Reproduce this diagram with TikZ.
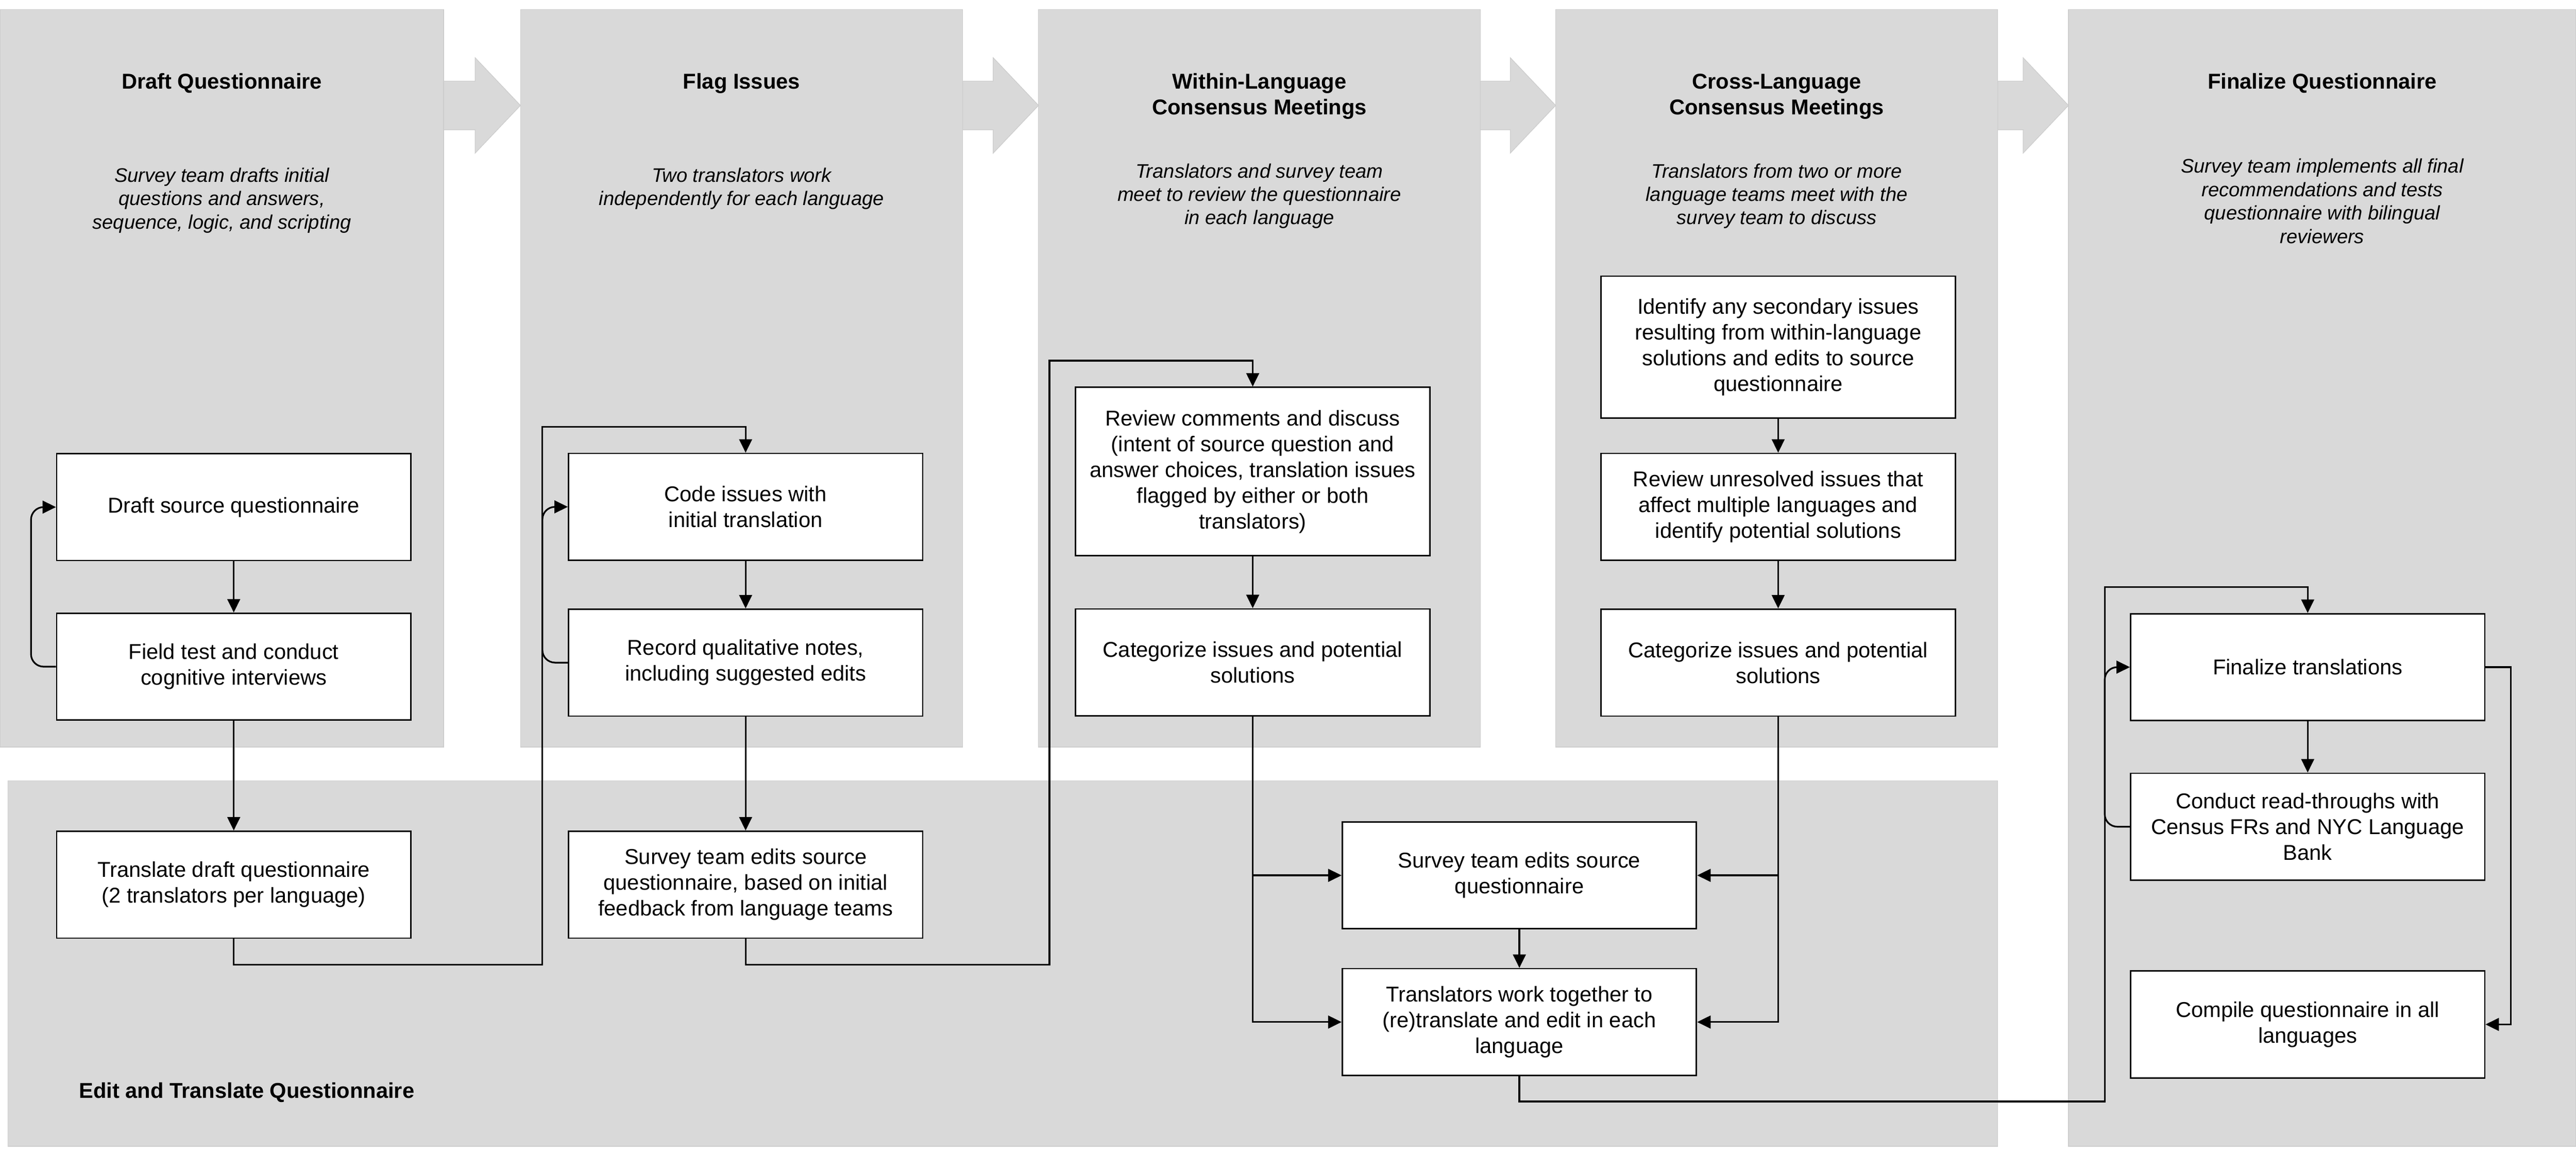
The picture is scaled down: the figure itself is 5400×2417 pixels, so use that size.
\documentclass[tikz,border=0pt]{standalone}
\usepackage{fontspec}
\setmainfont{Liberation Sans}
\usetikzlibrary{arrows.meta}
\definecolor{panelgrey}{HTML}{D9D9D9}
\definecolor{paneledge}{HTML}{CDCDCD}
\newcommand\myboxfont{\fontsize{12.8}{15.36}\selectfont}
\newcommand\mytitlefont{\fontsize{12.8}{15.36}\selectfont\bfseries}
\newcommand\mysubfont{\fontsize{11.7}{13.94}\selectfont\itshape}
\begin{document}
\begin{tikzpicture}[x=0.01cm,y=-0.01cm,
  panel/.style={fill=panelgrey, draw=paneledge, line width=0.4pt},
  bigarrow/.style={fill=panelgrey, draw=paneledge, line width=0.4pt},
  box/.style={draw, fill=white, line width=0.85pt, minimum width=7.42cm,
    minimum height=2.24cm, align=center, inner sep=0pt, font=\myboxfont},
  title/.style={anchor=north, inner sep=0pt, align=center, font=\mytitlefont},
  subtitle/.style={anchor=north, inner sep=0pt, align=center, font=\mysubfont},
  conn/.style={line width=1pt, -{Triangle[length=8pt,width=7.6pt]}},
  loopc/.style={conn, rounded corners=7.5pt},
]
\useasboundingbox (0,0) rectangle (5400,2417);

% panels
\path[panel] (17,1637) rectangle (4188,2403);
\path[panel] (0,20) rectangle (930,1566);
\path[panel] (1091,20) rectangle (2018,1566);
\path[panel] (2177,20) rectangle (3103,1566);
\path[panel] (3261,20) rectangle (4188,1566);
\path[panel] (4336,20) rectangle (5400,2403);

% big arrows between phases
\foreach \r/\l in {930/1091, 2018/2177, 3103/3261, 4188/4336}{
  \path[bigarrow] (\r,170) -- (\l-95,170) -- (\l-95,121) -- (\l,221)
    -- (\l-95,321) -- (\l-95,272) -- (\r,272) -- cycle;
}

% titles
\node[title] (t1) at (465,148) {\strut Draft Questionnaire};
\node[title] (t2) at (1554.5,148) {\strut Flag Issues};
\node[title] (t3) at (2640,148) {\strut Within-Language\\Consensus Meetings};
\node[title] (t4) at (3724.5,148) {\strut Cross-Language\\Consensus Meetings};
\node[title] (t5) at (4868,148) {\strut Finalize Questionnaire};
\node[anchor=base west, inner sep=0pt, font=\mytitlefont] (t6) at (165,2302)
  {Edit and Translate Questionnaire};

% subtitles
\node[subtitle] (s1) at (465,346.7) {\strut Survey team drafts initial\\questions and answers,\\sequence, logic, and scripting};
\node[subtitle] (s2) at (1554.5,346.7) {\strut Two translators work\\independently for each language};
\node[subtitle] (s3) at (2640,337.7) {\strut Translators and survey team\\meet to review the questionnaire\\in each language};
\node[subtitle] (s4) at (3724.5,337.7) {\strut Translators from two or more\\language teams meet with the\\survey team to discuss};
\node[subtitle] (s5) at (4868,327.7) {\strut Survey team implements all final\\recommendations and tests\\questionnaire with bilingual\\reviewers};

% boxes
\node[box] (B1) at (490,1063) {Draft source questionnaire};
\node[box] (B2) at (490,1397.5) {Field test and conduct\\cognitive interviews};
\node[box] (B3) at (490,1854.5) {Translate draft questionnaire\\(2 translators per language)};
\node[box] (C1) at (1563,1062.5) {Code issues with\\initial translation};
\node[box] (C2) at (1563,1389) {Record qualitative notes,\\including suggested edits};
\node[box] (C3) at (1563,1854.5) {Survey team edits source\\questionnaire, based on initial\\feedback from language teams};
\node[box, minimum height=3.53cm] (D1) at (2626,988.5) {Review comments and discuss\\(intent of source question and\\answer choices, translation issues\\flagged by either or both\\translators)};
\node[box] (D2) at (2626,1388.5) {Categorize issues and potential\\solutions};
\node[box, minimum height=2.97cm] (E1) at (3727.5,727.5) {Identify any secondary issues\\resulting from within-language\\solutions and edits to source\\questionnaire};
\node[box] (E2) at (3727.5,1062.5) {Review unresolved issues that\\affect multiple languages and\\identify potential solutions};
\node[box] (E3) at (3727.5,1389) {Categorize issues and potential\\solutions};
\node[box] (M1) at (3185,1835) {Survey team edits source\\questionnaire};
\node[box] (M2) at (3185,2142.5) {Translators work together to\\(re)translate and edit in each\\language};
\node[box] (F1) at (4837.5,1398.5) {Finalize translations};
\node[box] (F2) at (4837.5,1733) {Conduct read-throughs with\\Census FRs and NYC Language\\Bank};
\node[box] (F3) at (4837.5,2147.5) {Compile questionnaire in all\\languages};

% connectors
\draw[conn] (B1.south) -- (B2.north);
\draw[conn] (B2.south) -- (B3.north);
\draw[loopc] (B2.west) -- (65,1397.5) |- (B1.west);
\draw[conn] (B3.south) |- (1137,2022) -- (1137,895) -| (C1.north);

\draw[conn] (C1.south) -- (C2.north);
\draw[loopc] (C2.west) -- (1137,1389) |- (C1.west);
\draw[conn] (C2.south) -- (C3.north);
\draw[conn] (C3.south) |- (2200,2022) -- (2200,756) -| (D1.north);

\draw[conn] (D1.south) -- (D2.north);
\draw[conn] (D2.south) |- (M2.west);
\draw[conn] (D2.south |- M1.west) -- (M1.west);

\draw[conn] (E1.south) -- (E2.north);
\draw[conn] (E2.south) -- (E3.north);
\draw[conn] (E3.south) |- (M2.east);
\draw[conn] (E3.south |- M1.east) -- (M1.east);

\draw[conn] (M1.south) -- (M2.north);
\draw[conn] (M2.south) |- (4412,2309) -- (4412,1231) -| (F1.north);

\draw[conn] (F1.south) -- (F2.north);
\draw[loopc] (F2.west) -- (4412,1733) |- (F1.west);
\draw[conn] (F1.east) -- (5263,1398.5) |- (F3.east);
\end{tikzpicture}
\end{document}
